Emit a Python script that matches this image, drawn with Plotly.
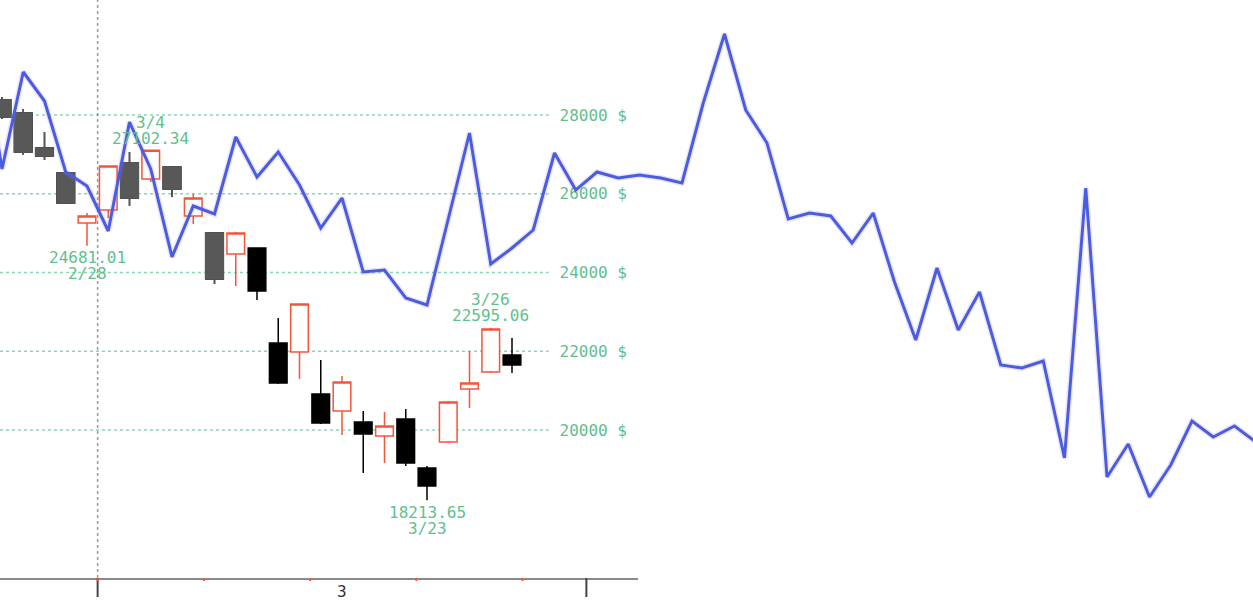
import plotly.graph_objects as go

# candles (trading-day index, OHLC)
candle_idx = list(range(25))
opens = [28381, 28051, 27162, 26527, 25257, 25587, 26781, 26375, 26679, 25435,
         25003, 24470, 24622, 22210, 21981, 20914, 20483, 20203, 19848, 20279,
         19035, 19695, 21041, 21473, 21905]
highs = [28457, 28152, 27568, 26527, 25511, 26705, 27060, 27102.34, 26679, 25994,
         25003, 25028, 24622, 22844, 23200, 21778, 21371, 20483, 20457, 20533,
         19086, 20737, 22006, 22595.06, 22337]
lows = [27898, 26984, 26857, 25740, 24681.01, 25384, 25689, 26298, 25917, 25232,
        23708, 23657, 23302, 21168, 21295, 20152, 19873, 18908, 19162, 19086,
        18213.65, 19670, 20559, 21448, 21448]
closes = [27949, 27060, 26959, 25765, 25435, 26705, 25892, 27102.34, 26121, 25892,
          23835, 25003, 23530, 21194, 23200, 20178, 21219, 19898, 20102, 19162,
          18578, 20711, 21194, 22565, 21651]
gray_idx = [0, 1, 2, 3, 6, 8, 10]

# overlay line (same index spacing, runs past the candle panel)
line_idx = list(range(-1, 60))
line_vals = [29905, 26629, 29092, 28356, 26552, 26197, 25054, 27822, 26629, 24394,
             25689, 25486, 27441, 26425, 27060, 26222, 25130, 25892, 24013, 24063,
             23352, 23175, 25359, 27543, 24216, 24622, 25079, 27035, 26095, 26552,
             26400, 26476, 26400, 26273, 28305, 30057, 28127, 27289, 25359, 25511,
             25435, 24749, 25511, 23759, 22286, 24114, 22540, 23505, 21651, 21575,
             21752, 19289, 26146, 18806, 19644, 18298, 19111, 20228, 19822, 20101,
             19695]

# price axis
price_ticks = [20000, 22000, 24000, 26000, 28000]
price_text = [f"{v} $" for v in price_ticks]

# x axis marks
month_edges = [4.5, 27.5]
week_edges = [9.5, 14.5, 19.5, 24.5]
month_label_pos = 16
month_label = "3"

# high/low markers
hl_idx = [7, 4, 23, 20]
hl_dates = ["3/4", "2/28", "3/26", "3/23"]
hl_vals = [27102.34, 24681.01, 22595.06, 18213.65]
hl_is_high = [True, False, True, False]

GREEN = "#5fbf8e"
MONO = "DejaVu Sans Mono"
PLOT_H = 578  # plot area height in px


def pick(arr, ids):
    return [arr[i] for i in ids]


fig = go.Figure()

# main candles (red hollow up, black down)
fig.add_trace(go.Candlestick(
    x=candle_idx, open=opens, high=highs, low=lows, close=closes,
    increasing=dict(line=dict(color="#f2553a", width=1.5), fillcolor="white"),
    decreasing=dict(line=dict(color="#000000", width=1.5), fillcolor="#000000"),
    whiskerwidth=0, showlegend=False, hoverinfo="skip",
))
# faded grey down candles on the left
fig.add_trace(go.Candlestick(
    x=pick(candle_idx, gray_idx),
    open=pick(opens, gray_idx), high=pick(highs, gray_idx),
    low=pick(lows, gray_idx), close=pick(closes, gray_idx),
    increasing=dict(line=dict(color="#585858", width=1.5), fillcolor="#585858"),
    decreasing=dict(line=dict(color="#585858", width=1.5), fillcolor="#585858"),
    whiskerwidth=0, showlegend=False, hoverinfo="skip",
))

# blue line with a soft halo, on a full-width axis
fig.add_trace(go.Scatter(
    x=line_idx, y=line_vals, xaxis="x2", yaxis="y2", mode="lines",
    line=dict(color="rgba(150,110,220,0.18)", width=6),
    showlegend=False, hoverinfo="skip",
))
fig.add_trace(go.Scatter(
    x=line_idx, y=line_vals, xaxis="x2", yaxis="y2", mode="lines",
    line=dict(color="#4a5de0", width=3),
    showlegend=False, hoverinfo="skip",
))

# dotted price gridlines stopping short of the labels
for v in price_ticks:
    fig.add_shape(type="line", xref="x domain", yref="y", x0=0, x1=0.86, y0=v, y1=v,
                  line=dict(color="#8fd6b0", width=1.5, dash="dot"), layer="below")
# month separator
fig.add_shape(type="line", xref="x", yref="paper", x0=month_edges[0], x1=month_edges[0],
              y0=0, y1=1, line=dict(color="#9a9a9a", width=1.5, dash="dot"), layer="below")

# tick marks under the baseline: long dark ones at month edges, red dots each week
for m in month_edges:
    fig.add_shape(type="line", xref="x", yref="paper", x0=m, x1=m, y0=0, y1=-19 / PLOT_H,
                  line=dict(color="#444444", width=2))
for w in week_edges + month_edges[:1]:
    fig.add_shape(type="line", xref="x", yref="paper", x0=w, x1=w, y0=0, y1=-3 / PLOT_H,
                  line=dict(color="#ff5533", width=2))

# high / low labels
for i, d, v, hi in zip(hl_idx, hl_dates, hl_vals, hl_is_high):
    s = 1 if hi else -1
    fig.add_annotation(x=i, y=v, text=f"{v:.2f}", showarrow=False, yanchor="middle",
                       yshift=s * 12, borderpad=0,
                       font=dict(family=MONO, size=16, color=GREEN))
    fig.add_annotation(x=i, y=v, text=d, showarrow=False, yanchor="middle",
                       yshift=s * 28, borderpad=0,
                       font=dict(family=MONO, size=16, color=GREEN))

fig.add_annotation(x=month_label_pos, y=0, yref="paper", text=month_label, showarrow=False,
                   yanchor="top", yshift=-2, font=dict(family=MONO, size=16, color="#333333"))

px_per_idx = 21.25
left_idx = -2 / px_per_idx
candle_range = [left_idx, left_idx + 638 / px_per_idx]
price_range = [16241, 30921]
fig.update_layout(
    width=1253, height=609,
    margin=dict(l=0, r=0, t=0, b=31),
    paper_bgcolor="white", plot_bgcolor="rgba(0,0,0,0)",
    boxgap=0.17, boxgroupgap=0,
    font=dict(family=MONO),
    xaxis=dict(
        domain=[0, 638 / 1253], range=candle_range,
        rangeslider=dict(visible=False), showgrid=False, zeroline=False,
        showline=True, linecolor="#8a8a8a", linewidth=2,
        showticklabels=False, ticks="",
    ),
    yaxis=dict(
        range=price_range, side="right", showgrid=False, zeroline=False,
        tickmode="array", tickvals=price_ticks, ticktext=price_text,
        ticklabelposition="inside", ticks="", showline=False, ticklabelstandoff=8,
        tickfont=dict(family=MONO, size=16, color=GREEN),
    ),
    xaxis2=dict(domain=[0, 1], anchor="y2",
                range=[left_idx, left_idx + 1253 / px_per_idx], visible=False),
    yaxis2=dict(domain=[0, 1], anchor="x2", range=price_range, visible=False),
)

fig.write_html("out.html", config={"displayModeBar": False},
               post_script="document.body.style.margin='0';")
